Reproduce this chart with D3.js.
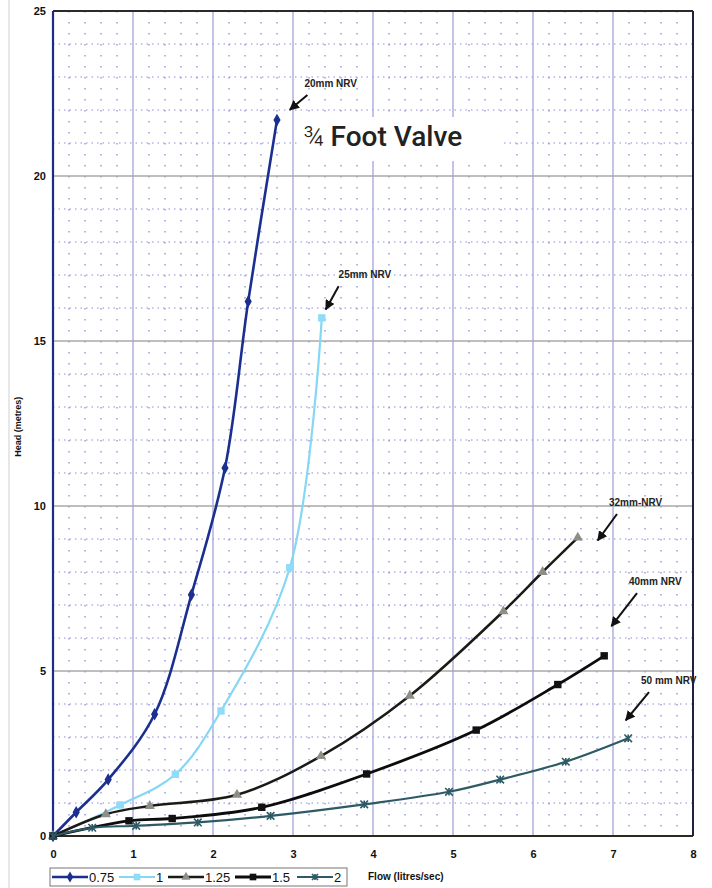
<!DOCTYPE html>
<html>
<head>
<meta charset="utf-8">
<script src="https://cdn.jsdelivr.net/npm/d3@7"></script>
<style>
  body { margin: 0; background: #fff; }
  svg { display: block; font-family: "Liberation Sans", Arial, sans-serif; }
</style>
</head>
<body>
<script>
// Flow (litres/sec) vs head (metres) for each valve size
var seriesNames = ["0.75", "1", "1.25", "1.5", "2"];
var flow075 = [0, 0.29, 0.69, 1.27, 1.73, 2.15, 2.44, 2.80];
var head075 = [0, 0.72, 1.71, 3.69, 7.31, 11.15, 16.2, 21.7];
var flow1 = [0, 0.84, 1.53, 2.10, 2.96, 3.36];
var head1 = [0, 0.94, 1.87, 3.79, 8.13, 15.7];
var flow125 = [0, 0.66, 1.21, 2.30, 3.35, 4.46, 5.63, 6.12, 6.56];
var head125 = [0, 0.66, 0.91, 1.25, 2.42, 4.25, 6.81, 8.0, 9.04];
var flow15 = [0, 0.95, 1.49, 2.61, 3.92, 5.29, 6.31, 6.89];
var head15 = [0, 0.46, 0.53, 0.87, 1.88, 3.21, 4.59, 5.46];
var flow2 = [0, 0.49, 1.04, 1.81, 2.72, 3.89, 4.95, 5.59, 6.41, 7.19];
var head2 = [0, 0.25, 0.31, 0.41, 0.61, 0.96, 1.34, 1.71, 2.25, 2.96];

var xTicks = [0, 1, 2, 3, 4, 5, 6, 7, 8];
var yTicks = [0, 5, 10, 15, 20, 25];

// Callout labels: text, point they sit at (data units)
var calloutText = ["20mm NRV", "25mm NRV", "32mm-NRV", "40mm NRV", "50 mm NRV"];
var calloutAt = [[3.18, 22.7], [3.57, 16.9], [6.95, 10.0], [7.2, 7.6], [7.35, 4.6]];

var W = 712, H = 888;
var margin = {top: 11, right: 19, bottom: 52, left: 53};

var svg = d3.select("body").append("svg")
    .attr("width", W)
    .attr("height", H);

var x = d3.scaleLinear().domain([0, 8]).range([margin.left, W - margin.right]);
var y = d3.scaleLinear().domain([0, 25]).range([H - margin.bottom, margin.top]);

// faint scan edge on the left
svg.append("line")
    .attr("x1", 9).attr("x2", 9).attr("y1", 0).attr("y2", H)
    .style("stroke", "#d8d8d8").style("stroke-width", 1.2);

var grid = svg.append("g");

// dotted minor verticals every 0.2
grid.selectAll("line.vdot")
    .data(d3.range(1, 40).filter(function(i) { return i % 5 !== 0; }))
    .enter().append("line")
    .attr("x1", function(i) { return x(i / 5); })
    .attr("x2", function(i) { return x(i / 5); })
    .attr("y1", y(25)).attr("y2", y(0))
    .style("stroke", "#8c8fd6")
    .style("stroke-width", 1.3)
    .style("stroke-dasharray", "1.5,9.5");

// dotted minor horizontals every 1
grid.selectAll("line.hdot")
    .data(d3.range(1, 25).filter(function(i) { return i % 5 !== 0; }))
    .enter().append("line")
    .attr("x1", x(0)).attr("x2", x(8))
    .attr("y1", function(d) { return y(d); })
    .attr("y2", function(d) { return y(d); })
    .style("stroke", "#8c8fd6")
    .style("stroke-width", 1.2)
    .style("stroke-dasharray", "1.5,4");

// major verticals
grid.selectAll("line.vmaj")
    .data(xTicks.slice(1, -1))
    .enter().append("line")
    .attr("x1", function(d) { return x(d); })
    .attr("x2", function(d) { return x(d); })
    .attr("y1", y(25)).attr("y2", y(0))
    .style("stroke", "#a3a4dc")
    .style("stroke-width", 1.3);

// major horizontals
grid.selectAll("line.hmaj")
    .data(yTicks.slice(1, -1))
    .enter().append("line")
    .attr("x1", x(0)).attr("x2", x(8))
    .attr("y1", function(d) { return y(d); })
    .attr("y2", function(d) { return y(d); })
    .style("stroke", "#a8a8a8")
    .style("stroke-width", 1.5);

// plot frame
svg.append("line").attr("x1", x(0)).attr("x2", x(8)).attr("y1", y(25)).attr("y2", y(25))
    .style("stroke", "#2a2a2a").style("stroke-width", 2);
svg.append("line").attr("x1", x(8)).attr("x2", x(8)).attr("y1", y(25)).attr("y2", y(0))
    .style("stroke", "#202040").style("stroke-width", 2);
svg.append("line").attr("x1", x(0)).attr("x2", x(8)).attr("y1", y(0)).attr("y2", y(0))
    .style("stroke", "#2b2a20").style("stroke-width", 2.2);
svg.append("line").attr("x1", x(0)).attr("x2", x(0)).attr("y1", y(25)).attr("y2", y(0))
    .style("stroke", "#1c2a8a").style("stroke-width", 2.2);

// axes (labels only)
var xAxis = svg.append("g")
    .attr("transform", "translate(0," + (y(0) + 10) + ")")
    .call(d3.axisBottom(x).tickValues(xTicks).tickSize(0).tickPadding(4));
var yAxis = svg.append("g")
    .attr("transform", "translate(" + (x(0) - 7) + ",0)")
    .call(d3.axisLeft(y).tickValues(yTicks).tickSize(0).tickPadding(0));
[xAxis, yAxis].forEach(function(a) {
    a.select(".domain").remove();
    a.selectAll("text")
        .style("font-size", "11px")
        .style("font-weight", "bold")
        .style("font-family", "Liberation Sans, Arial, sans-serif")
        .style("fill", "#111");
});

svg.append("text")
    .attr("transform", "translate(21," + y(12.4) + ") rotate(-90)")
    .attr("text-anchor", "middle")
    .style("font-size", "9px")
    .style("font-weight", "bold")
    .style("fill", "#111")
    .text("Head (metres)");

svg.append("text")
    .attr("x", 368).attr("y", 880)
    .style("font-size", "10px")
    .style("font-weight", "bold")
    .style("fill", "#111")
    .text("Flow (litres/sec)");

// series
var series = [
    {name: seriesNames[0], xs: flow075, ys: head075, color: "#1a2f8f", mark: "diamond", mcolor: "#1a2f8f", w: 2.6},
    {name: seriesNames[1], xs: flow1, ys: head1, color: "#86d6f6", mark: "square", mcolor: "#8fdcf8", w: 2.2},
    {name: seriesNames[2], xs: flow125, ys: head125, color: "#1a1a16", mark: "triangle", mcolor: "#8e8e86", w: 2.5},
    {name: seriesNames[3], xs: flow15, ys: head15, color: "#0c0c0c", mark: "square", mcolor: "#111", w: 2.8},
    {name: seriesNames[4], xs: flow2, ys: head2, color: "#2e5a66", mark: "x", mcolor: "#2e5a66", w: 2.2}
];

var line = d3.line()
    .x(function(d) { return x(d[0]); })
    .y(function(d) { return y(d[1]); })
    .curve(d3.curveCatmullRom.alpha(0.5));

function drawMark(g, type, color, size) {
    if (type === "diamond") {
        g.append("path").attr("d", d3.symbol(d3.symbolDiamond, size * 4.5)()).style("fill", color);
    } else if (type === "square") {
        g.append("path").attr("d", d3.symbol(d3.symbolSquare, size * 5.5)()).style("fill", color);
    } else if (type === "triangle") {
        g.append("path").attr("d", d3.symbol(d3.symbolTriangle, size * 4.5)()).style("fill", color);
    } else {
        var s = size * 0.38;
        g.append("path")
            .attr("d", "M" + (-s) + "," + (-s) + "L" + s + "," + s + "M" + (-s) + "," + s + "L" + s + "," + (-s) + "M0," + (-s) + "L0," + s)
            .style("stroke", color).style("stroke-width", 1.6).style("fill", "none");
    }
}

var plot = svg.append("g");
series.forEach(function(s) {
    var pts = s.xs.map(function(v, i) { return [v, s.ys[i]]; });
    plot.append("path")
        .datum(pts)
        .attr("d", line)
        .style("fill", "none")
        .style("stroke", s.color)
        .style("stroke-width", s.w);
    plot.selectAll(null)
        .data(pts)
        .enter().append("g")
        .attr("transform", function(d) { return "translate(" + x(d[0]) + "," + y(d[1]) + ")"; })
        .each(function() { drawMark(d3.select(this), s.mark, s.mcolor, 10); });
});

// callouts with arrows
svg.append("defs").append("marker")
    .attr("id", "arr")
    .attr("viewBox", "0 0 10 10")
    .attr("refX", 9).attr("refY", 5)
    .attr("markerWidth", 5).attr("markerHeight", 5)
    .attr("orient", "auto")
    .append("path").attr("d", "M0,0L10,5L0,10z").style("fill", "#111");

var arrowLen = [[-0.22, -0.45], [-0.16, -0.7], [-0.24, -0.8], [-0.32, -1.0], [-0.29, -0.85]];
calloutText.forEach(function(t, i) {
    var p = calloutAt[i];
    svg.append("text")
        .attr("x", x(p[0]) - (i === 0 ? 3 : 0))
        .attr("y", y(p[1]))
        .style("font-size", "10px")
        .style("font-weight", "bold")
        .style("fill", "#222")
        .text(t);
    var sx = x(p[0]) + (i >= 2 ? 8 : 0) , sy = y(p[1]) + 8;
    svg.append("line")
        .attr("x1", sx).attr("y1", sy)
        .attr("x2", sx + arrowLen[i][0] * 80).attr("y2", sy - arrowLen[i][1] * 33)
        .style("stroke", "#111").style("stroke-width", 2)
        .attr("marker-end", "url(#arr)");
});

// title box
svg.append("rect")
    .attr("x", 298).attr("y", 117)
    .attr("width", 204).attr("height", 44)
    .style("fill", "#fff");
var title = svg.append("text")
    .attr("x", 303).attr("y", 146)
    .style("font-family", "Roboto, Inter, sans-serif")
    .style("fill", "#222");
title.append("tspan").style("font-size", "27px").style("font-weight", "300").text("\u00be ");
title.append("tspan").style("font-size", "28px").style("font-weight", "500").text("Foot Valve");

// legend
var legLineX = [2, 69, 118, 185, 247];
var leg = svg.append("g").attr("transform", "translate(50,868)");
leg.append("rect")
    .attr("width", 297).attr("height", 18)
    .style("fill", "#fff")
    .style("stroke", "#777").style("stroke-width", 1);
var item = leg.selectAll("g.item")
    .data(series)
    .enter().append("g")
    .attr("transform", function(d, i) { return "translate(" + legLineX[i] + ",9)"; });
item.each(function(s) {
    var g = d3.select(this);
    g.append("line").attr("x1", 0).attr("x2", 36).attr("y1", 0).attr("y2", 0)
        .style("stroke", s.color).style("stroke-width", s.w);
    var m = g.append("g").attr("transform", "translate(18,0)");
    drawMark(m, s.mark, s.mcolor, 8);
    g.append("text")
        .attr("x", 37).attr("y", 5)
        .style("font-size", "13px")
        .style("fill", "#111")
        .text(s.name);
});
</script>
</body>
</html>
